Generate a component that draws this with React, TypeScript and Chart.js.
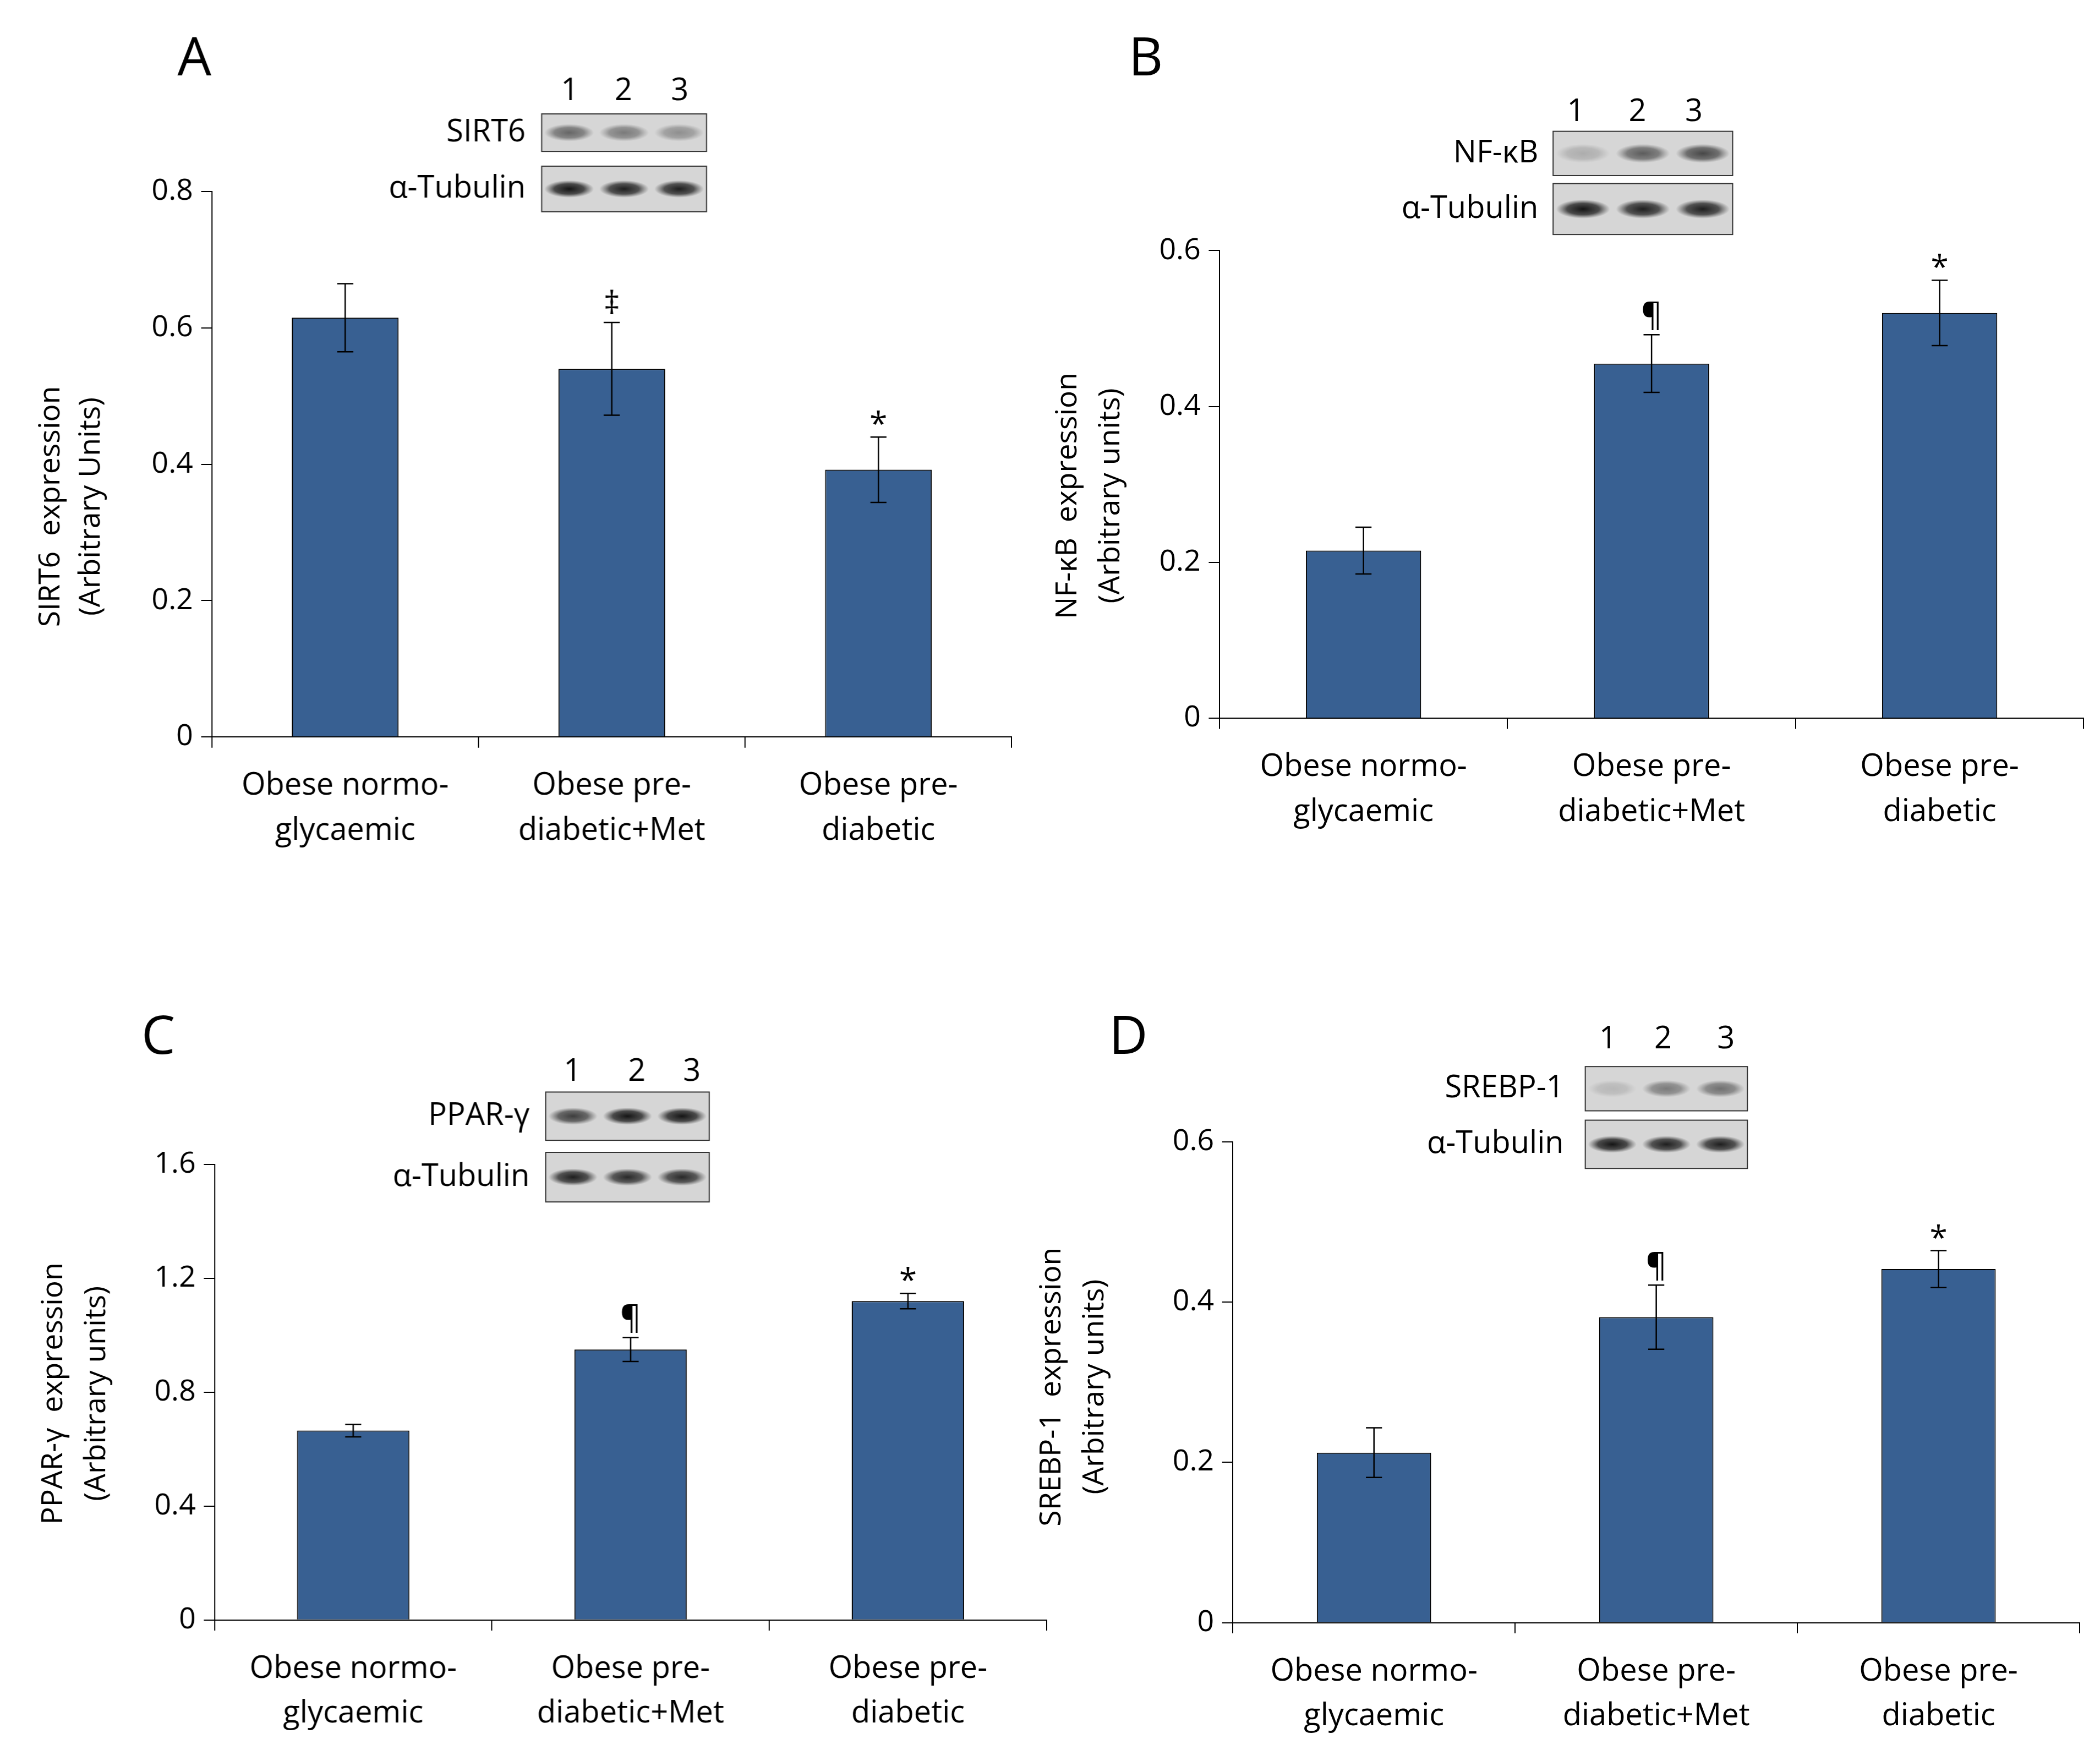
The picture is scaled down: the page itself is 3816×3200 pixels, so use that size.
import React, { useEffect, useRef } from "react";
import { Chart, registerables } from "chart.js";
Chart.register(...registerables);

const S = 2.435;
const FONT = "'Open Sans', 'Noto Sans', sans-serif";
const categories = [["Obese normo-", "glycaemic"], ["Obese pre-", "diabetic+Met"], ["Obese pre-", "diabetic"]];

const sirt6Values = [0.615, 0.54, 0.392];
const sirt6Errors = [0.05, 0.068, 0.048];
const nfkbValues = [0.215, 0.455, 0.52];
const nfkbErrors = [0.03, 0.037, 0.042];
const pparValues = [0.665, 0.95, 1.12];
const pparErrors = [0.022, 0.042, 0.027];
const srebpValues = [0.212, 0.381, 0.441];
const srebpErrors = [0.031, 0.04, 0.023];

const panels = [
  { letter: "A", origin: [0, 0], size: [770, 660], area: [158, 143, 755, 550], max: 0.8, step: 0.2,
    values: sirt6Values, errors: sirt6Errors, marks: ["", "‡", "*"], barPct: 0.4,
    title: ["SIRT6  expression", "(Arbitrary Units)"], titleX: [38, 68], titleY: 378, letterPos: [145, 45],
    blot: { nums: [425, 465, 507], numY: 68, box: [404, 527], rows: [[85, 113], [124, 158]], labelX: 392,
      labels: ["SIRT6", "α-Tubulin"], intens: [[0.55, 0.45, 0.35], [0.95, 0.9, 0.9]] } },
  { letter: "B", origin: [770, 0], size: [798, 660], area: [910, 187, 1555, 536], max: 0.6, step: 0.2,
    values: nfkbValues, errors: nfkbErrors, marks: ["", "¶", "*"], barPct: 0.4,
    title: ["NF-κB  expression", "(Arbitrary units)"], titleX: [797, 829], titleY: 370, letterPos: [855, 45],
    blot: { nums: [1176, 1222, 1264], numY: 84, box: [1159, 1293], rows: [[98, 131], [137, 175]], labelX: 1148,
      labels: ["NF-κB", "α-Tubulin"], intens: [[0.2, 0.6, 0.7], [0.95, 0.9, 0.9]] } },
  { letter: "C", origin: [0, 660], size: [795, 651], area: [160, 869, 781, 1209], max: 1.6, step: 0.4,
    values: pparValues, errors: pparErrors, marks: ["", "¶", "*"], barPct: 0.405,
    title: ["PPAR-γ  expression", "(Arbitrary units)"], titleX: [40, 72], titleY: 1040, letterPos: [118, 775],
    blot: { nums: [427, 475, 516], numY: 800, box: [407, 529], rows: [[815, 851], [860, 897]], labelX: 395,
      labels: ["PPAR-γ", "α-Tubulin"], intens: [[0.75, 0.95, 0.95], [0.9, 0.85, 0.85]] } },
  { letter: "D", origin: [770, 660], size: [798, 651], area: [920, 852, 1552, 1211], max: 0.6, step: 0.2,
    values: srebpValues, errors: srebpErrors, marks: ["", "¶", "*"], barPct: 0.405,
    title: ["SREBP-1  expression", "(Arbitrary units)"], titleX: [785, 817], titleY: 1035, letterPos: [842, 775],
    blot: { nums: [1200, 1241, 1288], numY: 776, box: [1183, 1304], rows: [[796, 829], [836, 872]], labelX: 1167,
      labels: ["SREBP-1", "α-Tubulin"], intens: [[0.15, 0.45, 0.5], [0.95, 0.9, 0.9]] } },
];

function Panel({ p }: { p: any }) {
  const ref = useRef<HTMLCanvasElement>(null);
  useEffect(() => {
    const ox = p.origin[0], oy = p.origin[1];
    const L = (x: number) => (x - ox) * S;
    const T = (y: number) => (y - oy) * S;
    const W = p.size[0] * S, H = p.size[1] * S;
    const extras = {
      id: "extras",
      afterDatasetsDraw(chart: any) {
        const ctx = chart.ctx;
        const ys = chart.scales.y;
        const meta = chart.getDatasetMeta(0);
        ctx.save();
        ctx.strokeStyle = "#000";
        ctx.lineWidth = 2.5;
        ctx.fillStyle = "#000";
        meta.data.forEach((bar: any, i: number) => {
          const v = p.values[i], e = p.errors[i];
          const yt = ys.getPixelForValue(v + e), yb = ys.getPixelForValue(v - e);
          const cw = 6 * S;
          ctx.beginPath();
          ctx.moveTo(bar.x, yt); ctx.lineTo(bar.x, yb);
          ctx.moveTo(bar.x - cw, yt); ctx.lineTo(bar.x + cw, yt);
          ctx.moveTo(bar.x - cw, yb); ctx.lineTo(bar.x + cw, yb);
          ctx.stroke();
          if (p.marks[i]) {
            ctx.font = `${24 * S}px ${FONT}`;
            ctx.textAlign = "center";
            ctx.textBaseline = "bottom";
            ctx.fillText(p.marks[i], bar.x, yt + (p.marks[i] === "*" ? 4 * S : -1 * S));
          }
        });
        ctx.font = `${40 * S}px ${FONT}`;
        ctx.textAlign = "center"; ctx.textBaseline = "middle";
        ctx.fillText(p.letter, L(p.letterPos[0]), T(p.letterPos[1]));
        ctx.font = `${22 * S}px ${FONT}`;
        p.title.forEach((t: string, k: number) => {
          ctx.save();
          ctx.translate(L(p.titleX[k]), T(p.titleY));
          ctx.rotate(-Math.PI / 2);
          ctx.fillText(t, 0, 0);
          ctx.restore();
        });
        const b = p.blot;
        ctx.font = `${23 * S}px ${FONT}`;
        b.nums.forEach((x: number, k: number) => ctx.fillText(String(k + 1), L(x), T(b.numY)));
        ctx.textAlign = "right";
        b.rows.forEach((r: number[], k: number) => {
          const x0 = L(b.box[0]), x1 = L(b.box[1]), y0 = T(r[0]), y1 = T(r[1]);
          ctx.fillStyle = "#d6d6d6";
          ctx.fillRect(x0, y0, x1 - x0, y1 - y0);
          ctx.strokeStyle = "#333"; ctx.lineWidth = 2;
          ctx.strokeRect(x0, y0, x1 - x0, y1 - y0);
          const lw = (x1 - x0) / 3;
          b.intens[k].forEach((a: number, j: number) => {
            const cx = x0 + lw * (j + 0.5), cy = (y0 + y1) / 2;
            const g = ctx.createRadialGradient(cx, cy, 0, cx, cy, lw * 0.45);
            g.addColorStop(0, `rgba(10,10,10,${a})`);
            g.addColorStop(0.6, `rgba(30,30,30,${a * 0.8})`);
            g.addColorStop(1, "rgba(60,60,60,0)");
            ctx.save();
            ctx.translate(cx, cy); ctx.scale(1, 0.35); ctx.translate(-cx, -cy);
            ctx.fillStyle = g;
            ctx.beginPath(); ctx.arc(cx, cy, lw * 0.45, 0, Math.PI * 2); ctx.fill();
            ctx.restore();
          });
          ctx.fillStyle = "#000";
          ctx.fillText(b.labels[k], L(b.labelX), (y0 + y1) / 2);
        });
        ctx.restore();
      },
    };
    const ticks: number[] = [];
    for (let v = 0; v <= p.max + 1e-9; v += p.step) ticks.push(+v.toFixed(2));
    const chart = new Chart(ref.current!, {
      type: "bar",
      data: {
        labels: categories as any,
        datasets: [{ data: p.values, backgroundColor: "#386092", borderColor: "#000", borderWidth: 2,
          barPercentage: p.barPct, categoryPercentage: 1 }],
      },
      options: {
        responsive: false, animation: false, devicePixelRatio: 1,
        layout: { padding: { top: T(p.area[1]), right: W - L(p.area[2]), left: 0, bottom: 0 } },
        plugins: { legend: { display: false }, tooltip: { enabled: false } },
        scales: {
          x: {
            offset: true,
            grid: { offset: true, drawOnChartArea: false, drawTicks: true, tickLength: 8 * S, color: "#000", lineWidth: 2 },
            border: { color: "#000", width: 2 },
            ticks: { color: "#000", font: { family: FONT, size: 23 * S, lineHeight: 1.45 }, padding: 12 * S, maxRotation: 0 },
            afterFit: (s: any) => { s.height = H - T(p.area[3]); },
          },
          y: {
            min: 0, max: p.max,
            afterBuildTicks: (s: any) => { s.ticks = ticks.map((v) => ({ value: v })); },
            grid: { drawOnChartArea: false, drawTicks: true, tickLength: 8 * S, color: "#000", lineWidth: 2 },
            border: { color: "#000", width: 2 },
            ticks: { color: "#000", font: { family: FONT, size: 22 * S }, padding: 6 * S,
              callback: (v: any) => (v === 0 ? "0" : String(+Number(v).toFixed(1))) },
            afterFit: (s: any) => { s.width = L(p.area[0]); },
          },
        },
      },
      plugins: [extras],
    });
    return () => chart.destroy();
  }, []);
  return (
    <canvas ref={ref} width={p.size[0] * S} height={p.size[1] * S}
      style={{ position: "absolute", left: p.origin[0] * S, top: p.origin[1] * S, width: p.size[0] * S, height: p.size[1] * S }} />
  );
}

export default function App() {
  return (
    <div style={{ position: "relative", width: 3816, height: 3200, background: "#fff", margin: -8 }}>
      {panels.map((p) => <Panel key={p.letter} p={p} />)}
    </div>
  );
}
